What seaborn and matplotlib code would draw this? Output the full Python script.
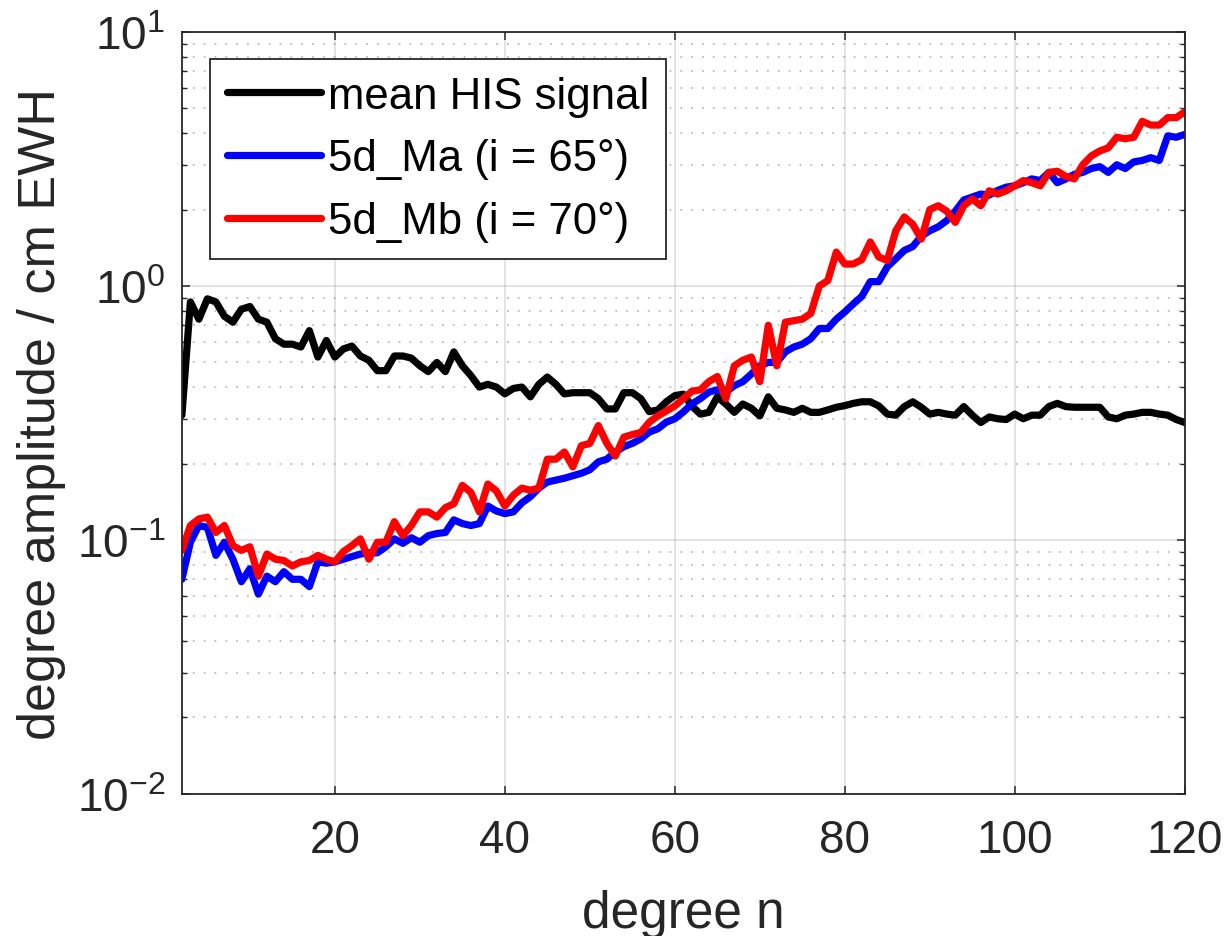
import numpy as np
import pandas as pd
import matplotlib
matplotlib.use("Agg")
import matplotlib.pyplot as plt
import seaborn as sns
from matplotlib.lines import Line2D

# ---------------- data ----------------
degrees = list(range(2, 121))

his_signal = [
    0.31, 0.865, 0.74, 0.89, 0.865, 0.76, 0.72, 0.81, 0.83, 0.74,
    0.72, 0.62, 0.59, 0.59, 0.575, 0.667, 0.525, 0.61, 0.525, 0.565,
    0.58, 0.53, 0.51, 0.464, 0.464, 0.53, 0.53, 0.52, 0.485, 0.46,
    0.50, 0.46, 0.55, 0.485, 0.444, 0.40, 0.41, 0.40, 0.376, 0.395,
    0.40, 0.366, 0.41, 0.438, 0.41, 0.376, 0.38, 0.38, 0.38, 0.36,
    0.328, 0.328, 0.38, 0.38, 0.36, 0.32, 0.325, 0.35, 0.37, 0.375,
    0.337, 0.313, 0.318, 0.366, 0.343, 0.318, 0.343, 0.33, 0.308, 0.366,
    0.33, 0.325, 0.318, 0.33, 0.318, 0.318, 0.325, 0.333, 0.338, 0.345,
    0.35, 0.35, 0.337, 0.313, 0.31, 0.335, 0.35, 0.333, 0.313, 0.318,
    0.313, 0.31, 0.335, 0.31, 0.29, 0.305, 0.30, 0.298, 0.313, 0.30,
    0.31, 0.31, 0.335, 0.345, 0.335, 0.333, 0.333, 0.333, 0.333, 0.305,
    0.30, 0.31, 0.313, 0.318, 0.318, 0.313, 0.31, 0.298, 0.29,
]

ma_65 = [
    0.070, 0.098, 0.114, 0.112, 0.087, 0.098, 0.084, 0.0685, 0.077, 0.0612,
    0.072, 0.0685, 0.075, 0.070, 0.070, 0.0655, 0.082, 0.081, 0.082, 0.084,
    0.086, 0.088, 0.089, 0.089, 0.094, 0.101, 0.097, 0.102, 0.098, 0.104,
    0.106, 0.107, 0.12, 0.116, 0.114, 0.116, 0.136, 0.13, 0.127, 0.129,
    0.14, 0.148, 0.16, 0.169, 0.172, 0.175, 0.179, 0.183, 0.189, 0.203,
    0.208, 0.222, 0.233, 0.24, 0.25, 0.266, 0.274, 0.291, 0.30, 0.319,
    0.343, 0.36, 0.382, 0.39, 0.382, 0.405, 0.42, 0.45, 0.485, 0.50,
    0.50, 0.55, 0.575, 0.59, 0.62, 0.68, 0.68, 0.74, 0.79, 0.85,
    0.91, 1.04, 1.04, 1.19, 1.28, 1.38, 1.43, 1.57, 1.65, 1.71,
    1.81, 1.97, 2.18, 2.24, 2.30, 2.28, 2.38, 2.45, 2.48, 2.55,
    2.64, 2.60, 2.80, 2.55, 2.64, 2.75, 2.80, 2.90, 2.95, 2.80,
    3.00, 2.90, 3.08, 3.12, 3.20, 3.12, 3.90, 3.85, 3.95,
]

mb_70 = [
    0.091, 0.114, 0.121, 0.123, 0.107, 0.114, 0.095, 0.091, 0.094, 0.072,
    0.088, 0.084, 0.083, 0.079, 0.082, 0.083, 0.087, 0.084, 0.082, 0.090,
    0.095, 0.101, 0.084, 0.098, 0.098, 0.118, 0.104, 0.114, 0.129, 0.129,
    0.123, 0.134, 0.139, 0.164, 0.154, 0.129, 0.166, 0.156, 0.136, 0.15,
    0.16, 0.157, 0.16, 0.208, 0.208, 0.222, 0.194, 0.235, 0.24, 0.282,
    0.24, 0.214, 0.254, 0.26, 0.265, 0.291, 0.308, 0.322, 0.337, 0.36,
    0.385, 0.39, 0.42, 0.44, 0.36, 0.485, 0.51, 0.525, 0.42, 0.70,
    0.485, 0.72, 0.73, 0.74, 0.78, 1.00, 1.05, 1.36, 1.22, 1.22,
    1.27, 1.49, 1.30, 1.26, 1.65, 1.87, 1.75, 1.53, 2.00, 2.07,
    1.97, 1.78, 2.07, 2.20, 2.07, 2.37, 2.30, 2.37, 2.48, 2.60,
    2.55, 2.48, 2.80, 2.83, 2.70, 2.64, 3.00, 3.25, 3.40, 3.50,
    3.85, 3.80, 3.85, 4.45, 4.30, 4.30, 4.60, 4.60, 4.85,
]

series_names = ["mean HIS signal", "5d_Ma (i = 65°)", "5d_Mb (i = 70°)"]
series_colors = ["#000000", "#0000ff", "#ff0000"]
x_ticks = [20, 40, 60, 80, 100, 120]
y_ticks = [1e-2, 1e-1, 1e0, 1e1]

df = pd.DataFrame({
    "n": degrees * 3,
    "value": his_signal + ma_65 + mb_70,
    "series": [series_names[0]] * len(degrees)
              + [series_names[1]] * len(degrees)
              + [series_names[2]] * len(degrees),
})

# ---------------- style ----------------
sns.set_style("ticks")
plt.rcParams["font.family"] = ["Liberation Sans", "DejaVu Sans"]
plt.rcParams["mathtext.fontset"] = "custom"
plt.rcParams["mathtext.rm"] = "Liberation Sans"
plt.rcParams["mathtext.it"] = "Liberation Sans:italic"
plt.rcParams["mathtext.bf"] = "Liberation Sans:bold"

TXT = "#262626"
LW = 5.2
fig = plt.figure(figsize=(12.29, 9.37), dpi=100)
ax = fig.add_axes([0.148, 0.1516, 0.816, 0.8132])

sns.lineplot(data=df, x="n", y="value", hue="series", hue_order=series_names,
             palette=dict(zip(series_names, series_colors)), linewidth=LW,
             estimator=None, sort=False, legend=False, ax=ax)

ax.set_yscale("log")
ax.set_xlim(2, 120)
ax.set_ylim(1e-2, 1e1)
ax.set_xticks(x_ticks)
ax.set_xticklabels([str(t) for t in x_ticks])
ax.set_yticks(y_ticks)

ax.grid(True, which="major", color="#262626", alpha=0.15, linewidth=1.2)
ax.grid(True, which="minor", axis="y", color="#262626", alpha=0.3,
        linestyle=(0, (1, 5)), linewidth=1.3)
ax.set_axisbelow(True)

for s in ax.spines.values():
    s.set_color(TXT)
    s.set_linewidth(1.3)

ax.tick_params(axis="both", which="major", direction="in", length=6, width=1.1,
               colors=TXT, labelsize=33, top=True, right=True)
ax.tick_params(axis="y", which="minor", direction="in", length=3.5, width=1.0,
               colors=TXT, right=True, left=True)
ax.tick_params(axis="x", which="major", pad=17)
ax.tick_params(axis="y", which="major", pad=12)

ax.set_xlabel("degree n", fontsize=37, color=TXT, labelpad=20)
ax.set_ylabel("degree amplitude / cm EWH", fontsize=37.5, color=TXT, labelpad=8)

handles = [Line2D([0], [0], color=c, lw=LW) for c in series_colors]
leg = ax.legend(handles, series_names, loc="upper left",
                bbox_to_anchor=(0.028, 0.9646), borderaxespad=0,
                fontsize=31.5, frameon=True, fancybox=False, framealpha=1,
                edgecolor="#262626", handlelength=2.15, handletextpad=0.17,
                labelspacing=0.5, borderpad=0.38)
leg.get_frame().set_linewidth(1.3)
for t in leg.get_texts():
    t.set_color("#000000")

fig.savefig("out.png", dpi=100, facecolor="white")
